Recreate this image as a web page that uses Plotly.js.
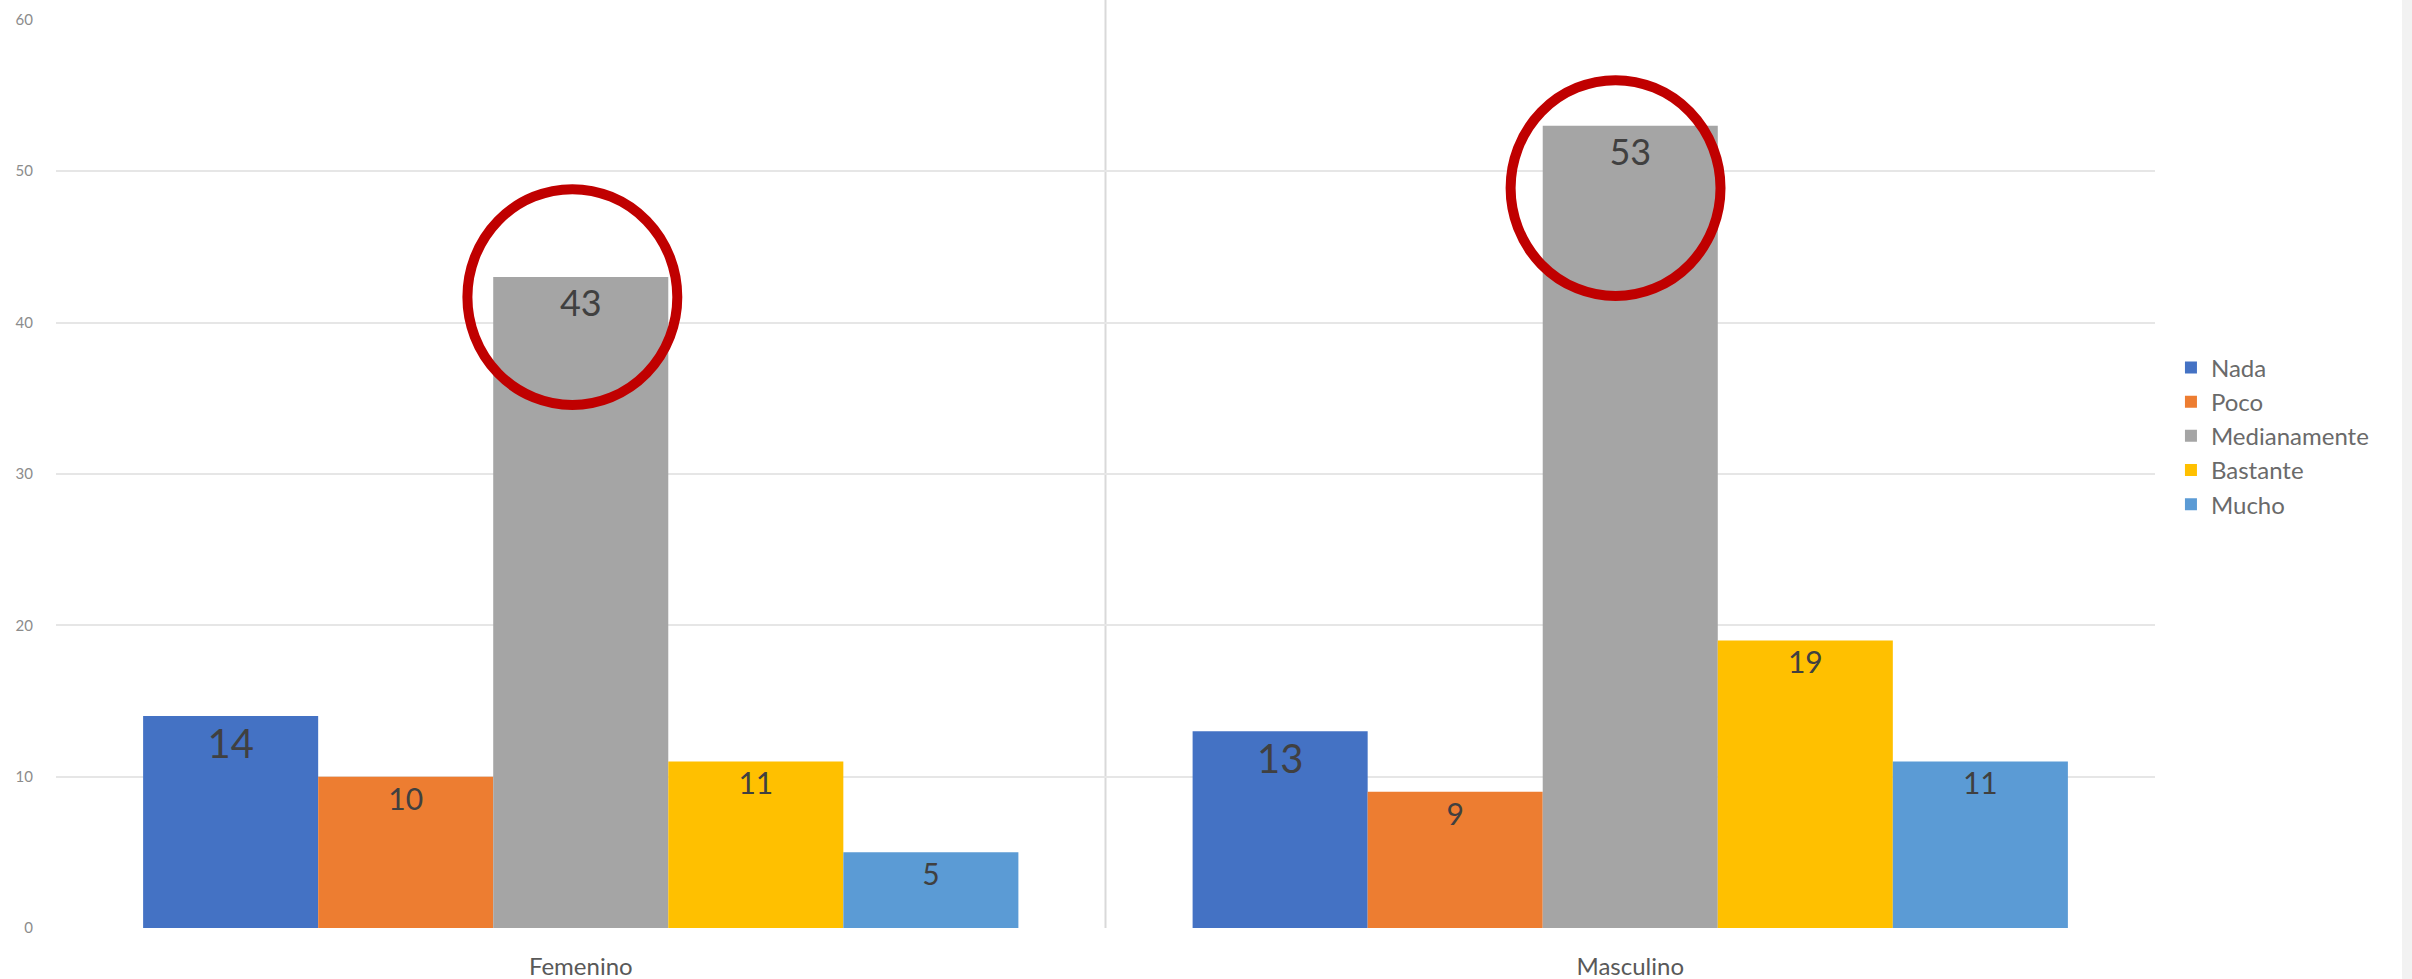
<!DOCTYPE html>
<html>
<head>
<meta charset="utf-8">
<script src="https://cdn.plot.ly/plotly-3.0.1.min.js"></script>
<style>
html,body{margin:0;padding:0;background:#fff;}
#chart{width:2412px;height:979px;}
</style>
</head>
<body>
<div id="chart"></div>
<script>
// ---- data ----
const categories = ["Femenino", "Masculino"];
const seriesNames = ["Nada", "Poco", "Medianamente", "Bastante", "Mucho"];
const nada = [14, 13];
const poco = [10, 9];
const medianamente = [43, 53];
const bastante = [11, 19];
const mucho = [5, 11];
const yTicks = [0, 10, 20, 30, 40, 50, 60];

// ---- styles ----
const seriesValues = [nada, poco, medianamente, bastante, mucho];
const colors = ["#4472C4", "#ED7D31", "#A5A5A5", "#FFC000", "#5B9BD5"];
const labelSizes = [[40, 40], [30, 30], [36, 36], [30, 30], [30, 30]];
const FONT = "Lato, 'Noto Sans', sans-serif";

const traces = seriesNames.map((name, i) => ({
  type: "bar",
  name: name,
  x: categories,
  y: seriesValues[i],
  text: seriesValues[i].map(String),
  textposition: "inside",
  insidetextanchor: "end",
  textangle: 0,
  constraintext: "none",
  textfont: { family: FONT, color: "#404040", size: labelSizes[i] },
  marker: { color: colors[i], line: { width: 0 } },
  hoverinfo: "none"
}));

// highlight circles around the Medianamente bars (data coordinates)
const circleSpecs = [
  { cat: 0, dx: -0.008, cy: medianamente[0] - 1.32 },
  { cat: 1, dx: -0.014, cy: medianamente[1] - 4.12 }
];
const shapes = circleSpecs.map(c => ({
  type: "circle", xref: "x", yref: "y", layer: "above",
  x0: c.cat + c.dx - 0.1, x1: c.cat + c.dx + 0.1,
  y0: c.cy - 7.13, y1: c.cy + 7.13,
  line: { color: "#C00000", width: 10 }
}));
// category divider
shapes.push({
  type: "line", xref: "x", yref: "paper", layer: "below",
  x0: 0.5, x1: 0.5, y0: 0, y1: 1.03,
  line: { color: "#d9d9d9", width: 2 }
});
// faint right chart border
shapes.push({
  type: "rect", xref: "paper", yref: "paper", layer: "below",
  x0: 1.1177, x1: 1.125, y0: -0.06, y1: 1.03,
  fillcolor: "#f2f2f2", line: { width: 0 }
});

const layout = {
  width: 2412, height: 979,
  margin: { l: 56, r: 257, t: 19, b: 51, pad: 0 },
  paper_bgcolor: "#ffffff",
  plot_bgcolor: "#ffffff",
  barmode: "group",
  bargap: 0.166,
  bargroupgap: 0,
  showlegend: true,
  font: { family: FONT, color: "#595959" },
  xaxis: {
    type: "category",
    showgrid: false, zeroline: false, showline: false,
    ticks: "", ticklabelstandoff: 22,
    tickfont: { family: FONT, size: 24, color: "#595959" }
  },
  yaxis: {
    range: [0, 60.05],
    tickmode: "array", tickvals: yTicks, ticktext: yTicks.map(String),
    showgrid: true, gridcolor: "#e6e6e6", gridwidth: 2,
    zeroline: false, showline: false, ticks: "",
    ticklabelstandoff: 22,
    tickfont: { family: FONT, size: 15, color: "#8c8c8c" }
  },
  legend: {
    x: 1.0076, xanchor: "left",
    y: 0.641, yanchor: "top",
    font: { family: FONT, size: 24, color: "#6a6a6a" },
    bgcolor: "rgba(0,0,0,0)",
    traceorder: "normal",
    itemclick: false
  },
  shapes: shapes
};

Plotly.newPlot("chart", traces, layout, { staticPlot: true, displayModeBar: false });
</script>
</body>
</html>
